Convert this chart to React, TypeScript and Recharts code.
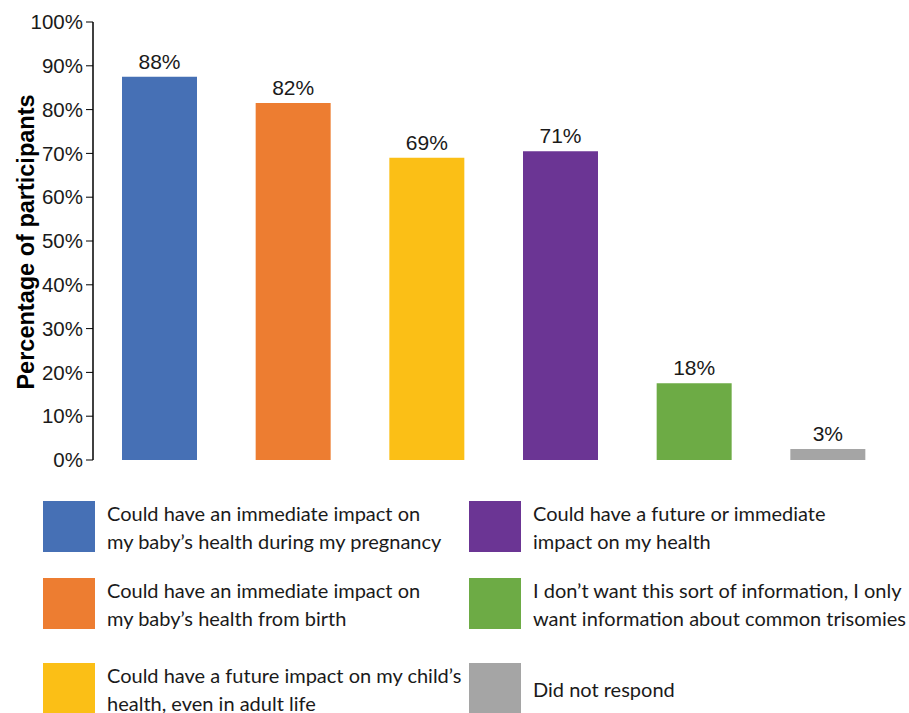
import React from "react";
import { BarChart, Bar, XAxis, YAxis, Cell, LabelList } from "recharts";

const categories = [
  "Could have an immediate impact on|my baby\u2019s health during my pregnancy",
  "Could have an immediate impact on|my baby\u2019s health from birth",
  "Could have a future impact on my child\u2019s|health, even in adult life",
  "Could have a future or immediate|impact on my health",
  "I don\u2019t want this sort of information, I only|want information about common trisomies",
  "Did not respond",
];
const values = [87.5, 81.5, 69, 70.5, 17.5, 2.5];
const valueLabels = ["88%", "82%", "69%", "71%", "18%", "3%"];
const colors = ["#4670B5", "#ED7D31", "#FBBF16", "#6B3594", "#6DAB45", "#A5A5A5"];
const yTicks = [0, 10, 20, 30, 40, 50, 60, 70, 80, 90, 100];

const data = categories.map((c, i) => ({ name: c, value: values[i], label: valueLabels[i] }));

const legendPos = [
  { left: 43, top: 501 },
  { left: 43, top: 578 },
  { left: 43, top: 663 },
  { left: 469, top: 501 },
  { left: 469, top: 578 },
  { left: 469, top: 663 },
];

export default function App() {
  return (
    <div style={{ position: "absolute", left: 0, top: 0, width: 909, height: 713, background: "#fff", overflow: "hidden" }}>
      <BarChart
        width={909}
        height={470}
        data={data}
        margin={{ top: 22, right: 14, left: 0, bottom: 10 }}
        barSize={75}
      >
        <XAxis dataKey="name" tick={false} tickLine={false} height={0} axisLine={{ stroke: "#000", strokeWidth: 1.5 }} />
        <YAxis
          width={93}
          domain={[0, 100]}
          ticks={yTicks}
          interval={0}
          tickFormatter={(v: number) => `${v}%`}
          tick={{ fontFamily: "Liberation Sans, Arial, sans-serif", fontSize: 20.5, fill: "#1a1a1a" }}
          tickSize={7}
          tickMargin={3}
          tickLine={{ stroke: "#000" }}
          axisLine={{ stroke: "#000", strokeWidth: 1.5 }}
          label={{
            content: () => (
              <text
                x={26}
                y={242}
                transform="rotate(-90 26 242)"
                textAnchor="middle"
                dominantBaseline="central"
                fontFamily="Liberation Sans, Arial, sans-serif"
                fontWeight="bold"
                fontSize={23.5}
                fill="#000"
              >
                Percentage of participants
              </text>
            ),
          }}
        />
        <Bar dataKey="value" isAnimationActive={false}>
          {data.map((d, i) => (
            <Cell key={i} fill={colors[i]} />
          ))}
          <LabelList
            dataKey="label"
            position="top"
            offset={8}
            style={{ fontFamily: "Liberation Sans, Arial, sans-serif", fontSize: 21, fill: "#1a1a1a" }}
          />
        </Bar>
      </BarChart>
      {categories.map((c, i) => (
        <div
          key={i}
          style={{
            position: "absolute",
            left: legendPos[i].left,
            top: legendPos[i].top,
            height: 51,
            display: "flex",
            alignItems: "center",
          }}
        >
          <div style={{ width: 52, height: 51, background: colors[i], flex: "none" }} />
          <div
            style={{
              marginLeft: 12,
              fontFamily: "Lato, 'Open Sans', sans-serif",
              fontSize: 20,
              lineHeight: "28px",
              color: "#1a1a1a",
              whiteSpace: "nowrap",
            }}
          >
            {c.split("|").map((line, j) => (
              <div key={j}>{line}</div>
            ))}
          </div>
        </div>
      ))}
    </div>
  );
}
